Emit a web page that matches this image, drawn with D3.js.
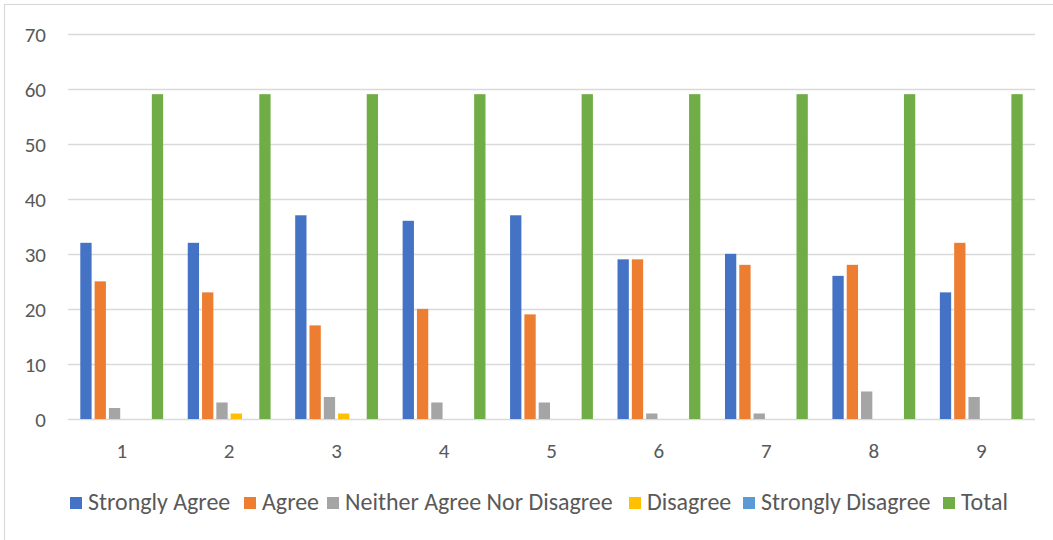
<!DOCTYPE html>
<html>
<head>
<meta charset="utf-8">
<script src="https://cdn.jsdelivr.net/npm/d3@7"></script>
<style>
  html, body { margin: 0; padding: 0; background: #fff; }
  svg { display: block; }
  text { font-family: Carlito, Calibri, Lato, "Open Sans", sans-serif; fill: #595959; }
</style>
</head>
<body>
<svg id="chart" width="1053" height="540"></svg>
<script>
const categories = ["1", "2", "3", "4", "5", "6", "7", "8", "9"];
const seriesNames = ["Strongly Agree", "Agree", "Neither Agree Nor Disagree", "Disagree", "Strongly Disagree", "Total"];
const seriesColors = ["#4472C4", "#ED7D31", "#A5A5A5", "#FFC000", "#5B9BD5", "#70AD47"];
const stronglyAgree = [32, 32, 37, 36, 37, 29, 30, 26, 23];
const agree = [25, 23, 17, 20, 19, 29, 28, 28, 32];
const neither = [2, 3, 4, 3, 3, 1, 1, 5, 4];
const disagree = [0, 1, 1, 0, 0, 0, 0, 0, 0];
const stronglyDisagree = [0, 0, 0, 0, 0, 0, 0, 0, 0];
const total = [59, 59, 59, 59, 59, 59, 59, 59, 59];
const yTicks = [0, 10, 20, 30, 40, 50, 60, 70];

const seriesValues = [stronglyAgree, agree, neither, disagree, stronglyDisagree, total];

const svg = d3.select("#chart");
const FONT = "Carlito, Calibri, Lato, 'Open Sans', sans-serif";

// outer chart border
svg.append("rect")
  .attr("x", 4.5).attr("y", 4.5)
  .attr("width", 1060).attr("height", 560)
  .attr("fill", "none").attr("stroke", "#D9D9D9").attr("stroke-width", 1.2);

const plotLeft = 68, plotRight = 1035, plotTop = 33.6, plotBottom = 419;

const y = d3.scaleLinear().domain([0, 70]).range([plotBottom, plotTop]);
const p = 0.229;
const x0 = d3.scaleBand().domain(categories).range([plotLeft, plotRight]).paddingInner(p).paddingOuter(p / 2);
const x1 = d3.scaleBand().domain(seriesNames).range([0, x0.bandwidth()]).paddingInner(0.21).paddingOuter(0);

// gridlines
svg.append("g").selectAll("line").data(yTicks).join("line")
  .attr("x1", plotLeft).attr("x2", plotRight)
  .attr("y1", d => Math.round(y(d)) + 0.5).attr("y2", d => Math.round(y(d)) + 0.5)
  .attr("stroke", "#D9D9D9").attr("stroke-width", 1.3);

// y labels
const yAxis = d3.axisLeft(y).tickValues(yTicks).tickSize(0).tickPadding(0);
const gy = svg.append("g").attr("transform", "translate(46,0)").call(yAxis);
gy.select(".domain").remove();
gy.selectAll("text").attr("font-size", 21).attr("fill", "#595959").attr("dy", "0.36em")
  .style("font-family", FONT);

// bars
const rows = [];
categories.forEach((c, i) => {
  seriesNames.forEach((s, j) => {
    rows.push({ cat: c, series: s, value: seriesValues[j][i], color: seriesColors[j] });
  });
});
svg.append("g").selectAll("rect").data(rows.filter(d => d.value > 0)).join("rect")
  .attr("x", d => x0(d.cat) + x1(d.series))
  .attr("width", x1.bandwidth())
  .attr("y", d => y(d.value))
  .attr("height", d => y(0) - y(d.value))
  .attr("fill", d => d.color);

// x labels
const xAxis = d3.axisBottom(x0).tickSize(0).tickPadding(0);
const gx = svg.append("g").attr("transform", "translate(0,443)").call(xAxis);
gx.select(".domain").remove();
gx.selectAll("text").attr("font-size", 21).attr("fill", "#595959").attr("dy", "0.71em")
  .style("font-family", FONT);

// legend
const legend = svg.append("g");
const legendTextStart = [88, 262, 345, 647, 761, 961];
const legendTextEnd = [231, 318, 615, 730, 930, 1008];
const texts = [];
let sumW = 0, sumT = 0;
seriesNames.forEach((s, j) => {
  const g = legend.append("g");
  g.append("rect")
    .attr("x", legendTextStart[j] - 18).attr("y", 497)
    .attr("width", 12).attr("height", 12)
    .attr("fill", seriesColors[j]);
  const t = g.append("text")
    .attr("x", legendTextStart[j]).attr("y", 510)
    .attr("font-size", 20)
    .text(s);
  sumW += t.node().getComputedTextLength();
  sumT += legendTextEnd[j] - legendTextStart[j];
  texts.push(t);
});
const fs = 20 * sumT / sumW;
texts.forEach(t => t.attr("font-size", fs));
</script>
</body>
</html>
